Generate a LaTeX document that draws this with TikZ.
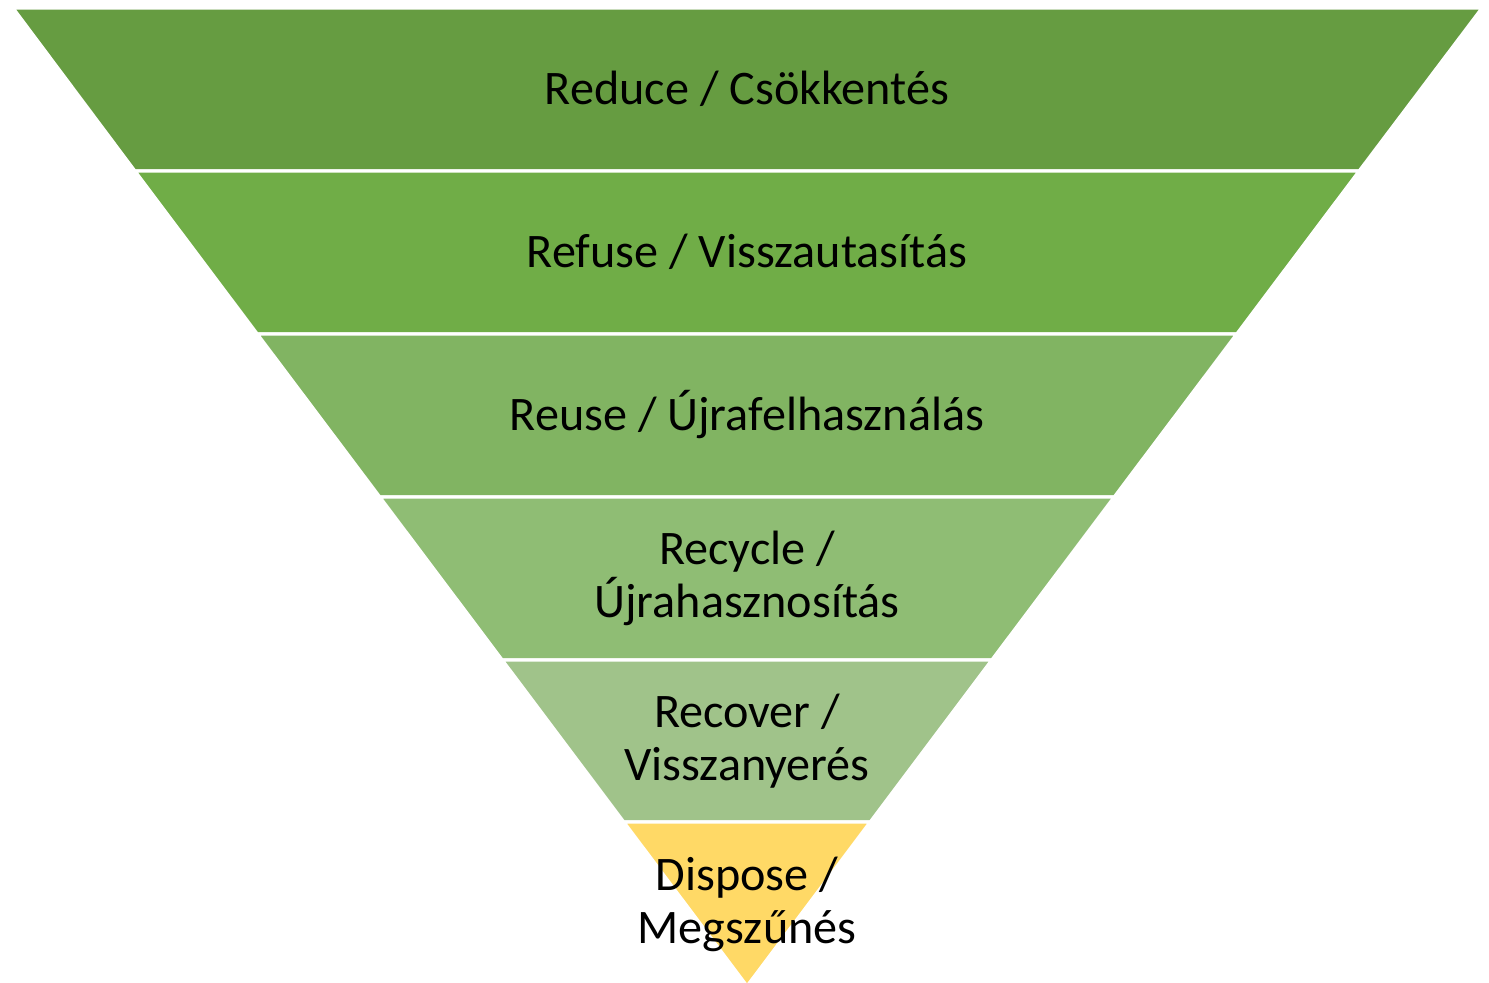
\documentclass[tikz,border=0pt]{standalone}
\usepackage{fontspec}
\setmainfont{Carlito}
\definecolor{bandA}{HTML}{669C41}
\definecolor{bandB}{HTML}{70AD47}
\definecolor{bandC}{HTML}{81B462}
\definecolor{bandD}{HTML}{8FBD74}
\definecolor{bandE}{HTML}{A0C38A}
\definecolor{bandF}{HTML}{FFD966}
\begin{document}
\begin{tikzpicture}[x=0.01cm,y=-0.01cm,
  band/.style={draw=white,line width=0.9pt,line join=miter},
  lbl/.style={font=\fontsize{13.7}{15.1}\selectfont,align=center,text=black,inner sep=0pt}]
\useasboundingbox (0,0) rectangle (1489,982);
% inverted pyramid, six layers from top to apex
\path[band,fill=bandA] (13,8) -- (1482,8) -- (1359.1,171) -- (134.9,171) -- cycle;
\path[band,fill=bandB] (134.9,171) -- (1359.1,171) -- (1236.7,334) -- (257.3,334) -- cycle;
\path[band,fill=bandC] (257.3,334) -- (1236.7,334) -- (1114.2,497) -- (379.8,497) -- cycle;
\path[band,fill=bandD] (379.8,497) -- (1114.2,497) -- (991.8,660) -- (502.2,660) -- cycle;
\path[band,fill=bandE] (502.2,660) -- (991.8,660) -- (870.2,822) -- (623.8,822) -- cycle;
\path[band,fill=bandF] (623.8,822) -- (870.2,822) -- (747,986) -- cycle;
% layer labels
\node[lbl] (reduce)  at (747,89)  {Reduce / Csökkentés};
\node[lbl] (refuse)  at (747,252) {Refuse / Visszautasítás};
\node[lbl] (reuse)   at (747,415) {Reuse / Újrafelhasználás};
\node[lbl] (recycle) at (747,578) {Recycle /\\Újrahasznosítás};
\node[lbl] (recover) at (747,741) {Recover /\\Visszanyerés};
\node[lbl] (dispose) at (747,904) {Dispose /\\Megszűnés};
\end{tikzpicture}
\end{document}
